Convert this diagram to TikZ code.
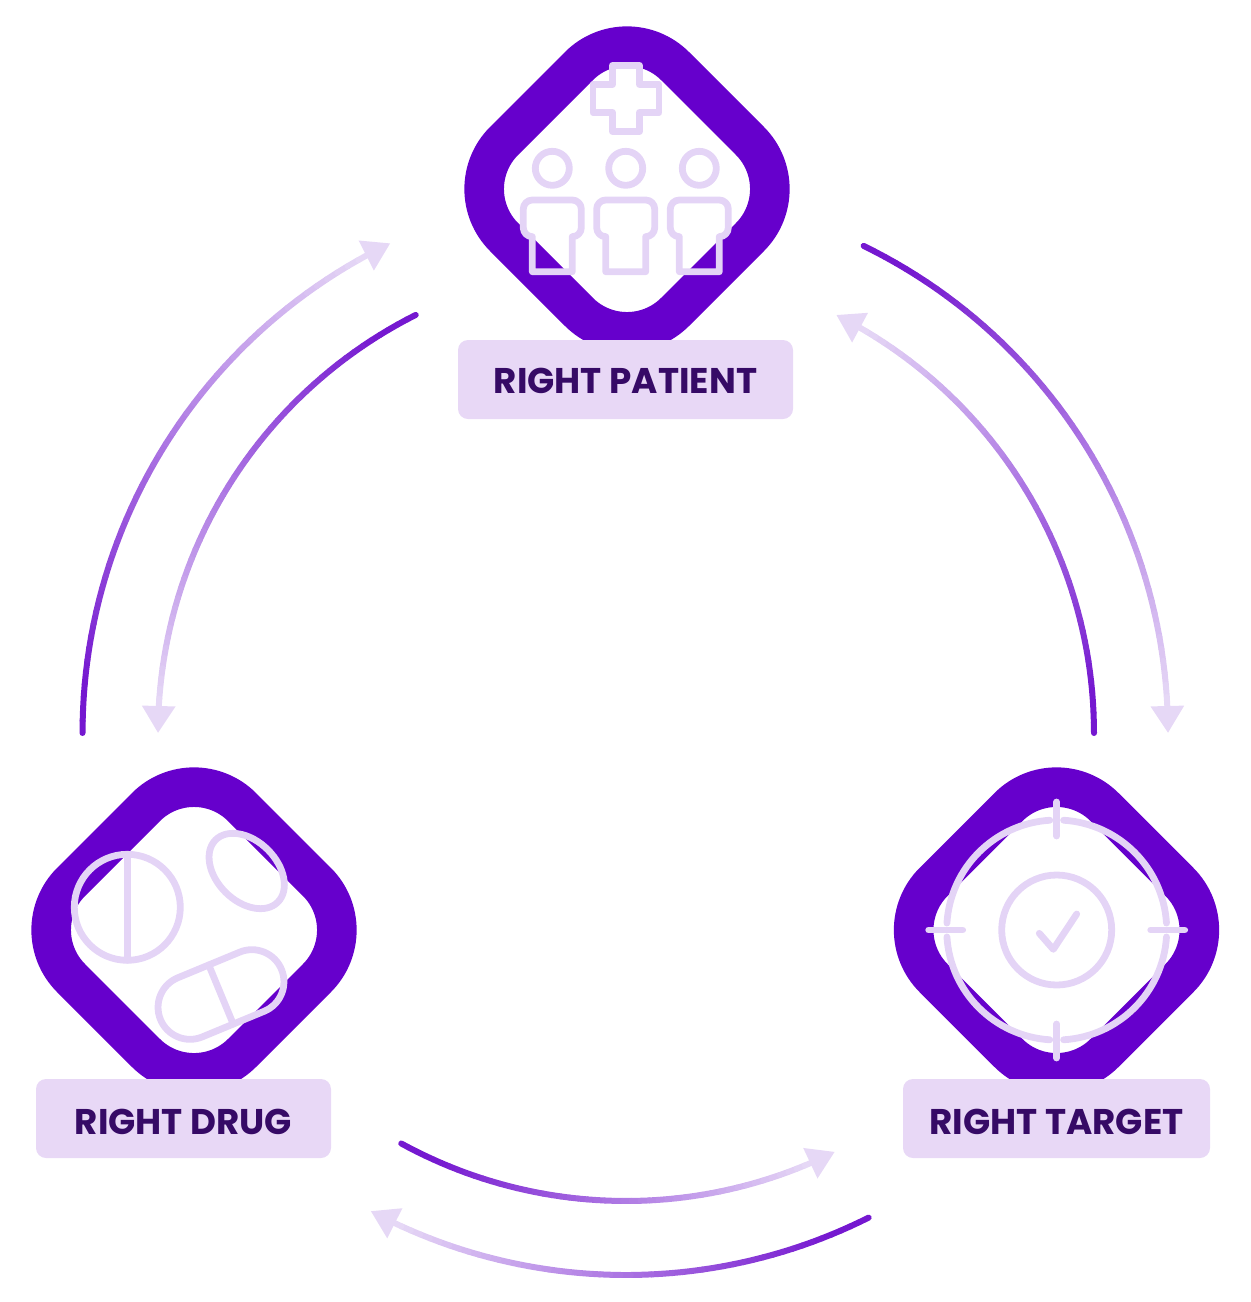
\documentclass[tikz,border=0pt]{standalone}
\usepackage{fontspec}
\setmainfont{Poppins}
\usetikzlibrary{positioning}
\usetikzlibrary{arrows.meta}
\usetikzlibrary{shapes.geometric}

\definecolor{ringpurple}{HTML}{6600CC}
\definecolor{boxlilac}{HTML}{E8D8F6}
\definecolor{textpurple}{HTML}{360A66}
\definecolor{iconlilac}{HTML}{E4D4F6}
\definecolor{arcdark}{HTML}{7518D0}
\definecolor{arclight}{HTML}{E6D8F6}

\tikzset{
ringnode/.style={diamond, draw=ringpurple, line width=39.6pt, aspect=1, inner sep=0pt, outer sep=0pt,
  minimum width=342pt, minimum height=342pt, rounded corners=68pt},
labelnode/.style={rectangle, fill=boxlilac, rounded corners=10pt, minimum height=79pt, inner sep=0pt,
  text=textpurple, font=\fontsize{35.7}{36}\selectfont\bfseries, text height=31pt, text depth=0pt},
iconline/.style={draw=iconlilac, line width=6.8pt, line join=round, line cap=round},
arcline/.style={line width=6pt, line cap=round},
}

% one arc round the middle of the picture, dark at its start and light at its head
\newcommand{\gradarc}[4]{%
  \pgfmathsetmacro{\stopa}{#4-(#4>#3?1:-1)*24/#2*180/pi}
  \coordinate (#1s) at ({626+#2*cos(#3)},{733-#2*sin(#3)});
  \coordinate (#1m) at ({626+#2*cos(\stopa)},{733-#2*sin(\stopa)});
  \coordinate (#1e) at ({626+#2*cos(#4)},{733-#2*sin(#4)});
  \foreach \i in {1,...,48}{
    \pgfmathsetmacro{\aone}{#3+(\stopa-#3)*(\i-1)/48}
    \pgfmathsetmacro{\atwo}{#3+(\stopa-#3)*\i/48}
    \pgfmathsetmacro{\pct}{max(0,100*(\i/48-0.1)/0.9)}
    \draw[arcline, draw=arclight!\pct!arcdark] ({626+#2*cos(\aone)},{733-#2*sin(\aone)}) -- ({626+#2*cos(\atwo)},{733-#2*sin(\atwo)});
  }
  \draw[arcline, line cap=butt, draw=arclight, -{Triangle[length=27pt,width=32pt,sep=0pt]}] (#1m) -- (#1e);
}

\begin{document}
\begin{tikzpicture}[x=1pt, y=-1pt, on grid]
\useasboundingbox (0,0) rectangle (1251,1302);

%Arcs
\gradarc{po}{542}{64}{0}
\gradarc{pi}{468}{0}{63.3}
\gradarc{do}{543.5}{180}{115.7}
\gradarc{di}{468}{116.7}{180}
\gradarc{ti}{468}{-118.7}{-63.5}
\gradarc{to}{542}{-63.4}{-118.1}

%Nodes
\node[ringnode]  (patient) at (627,189) {};
\node[ringnode]  (drug)    [below left=741pt and 433pt of patient] {};
\node[ringnode]  (target)  [below right=741pt and 429.5pt of patient] {};
\node[labelnode, minimum width=335pt, text height=27pt] (patientlabel) at (625.5,379.5) {RIGHT PATIENT};
\node[labelnode, minimum width=295pt] (druglabel)    at (183.5,1118.5) {RIGHT DRUG};
\node[labelnode, minimum width=307pt] (targetlabel)  at (1056.5,1118.5) {RIGHT TARGET};

%Patient icon
\draw[iconline] (612.5,65.5) -- (639.5,65.5) -- (639.5,84.5) -- (659,84.5) -- (659,112.5) -- (639.5,112.5)
  -- (639.5,131.5) -- (612.5,131.5) -- (612.5,112.5) -- (593,112.5) -- (593,84.5) -- (612.5,84.5) -- cycle;
\foreach \px in {552.3,625.7,699.3}{
  \draw[iconline] (\px,168.3) circle[radius=17pt];
  \draw[iconline] (\px-20,271.7) -- (\px-20,236.7) [rounded corners=9pt] -- (\px-29,236.7) -- (\px-29,200)
    -- (\px+29,200) -- (\px+29,236.7) [sharp corners] -- (\px+20,236.7) -- (\px+20,271.7) -- cycle;
}

%Drug icon
\draw[iconline] (127.3,907.3) circle[radius=53pt];
\draw[iconline] (127.3,854.3) -- (127.3,960.3);
\begin{scope}[shift={(246.7,871)}, rotate=-45]
\draw[iconline] (0,0) ellipse[x radius=44pt, y radius=30pt];
\end{scope}
\begin{scope}[shift={(221,994.5)}, rotate=22.5]
\draw[iconline, rounded corners=32pt] (-65.5,-32) rectangle (65.5,32);
\draw[iconline] (0,-32) -- (0,32);
\end{scope}

%Target icon
\draw[iconline] (1056.7,930) circle[radius=55pt];
\foreach \a in {0,90,180,270}{
  \draw[iconline] ({1056.7+110*cos(\a+3.6)},{930-110*sin(\a+3.6)}) arc[start angle=\a+3.6, end angle=\a+86.4, radius=110pt];
  \draw[iconline] ({1056.7+94*cos(\a)},{930-94*sin(\a)}) -- ({1056.7+128*cos(\a)},{930-128*sin(\a)});
}
\draw[iconline] (1039.3,933.3) -- (1053.3,949.3) -- (1076.7,914);
\end{tikzpicture}
\end{document}
